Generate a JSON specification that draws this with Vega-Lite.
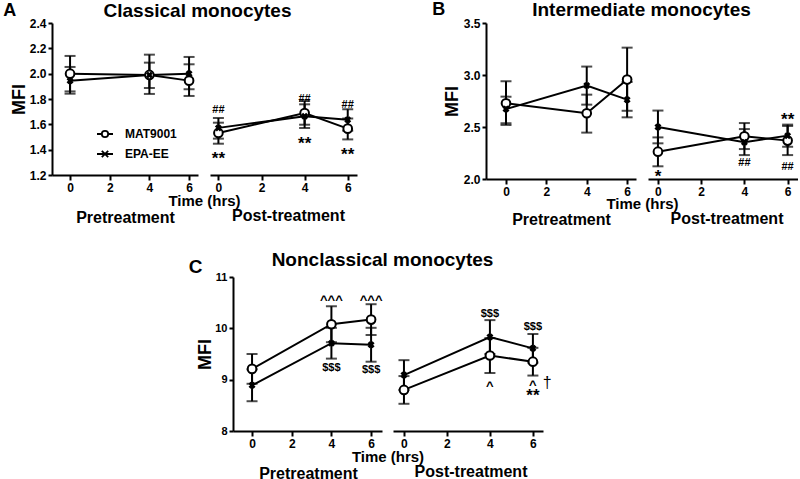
{
 "$schema": "https://vega.github.io/schema/vega-lite/v6.json",
 "padding": {"left": 3, "top": 0, "right": 0, "bottom": 0},
 "bounds": "flush",
 "spacing": 254,
 "datasets": {
  "d": [
   {"p":"A","ph":"pre","t":0,"s":"MAT9001","v":2.00,"lo":1.86,"hi":2.14},
   {"p":"A","ph":"pre","t":4,"s":"MAT9001","v":1.99,"lo":1.84,"hi":2.15},
   {"p":"A","ph":"pre","t":6,"s":"MAT9001","v":1.945,"lo":1.824,"hi":2.074},
   {"p":"A","ph":"pre","t":0,"s":"EPA-EE","v":1.945,"lo":1.842,"hi":2.053},
   {"p":"A","ph":"pre","t":4,"s":"EPA-EE","v":1.99,"lo":1.887,"hi":2.087},
   {"p":"A","ph":"pre","t":6,"s":"EPA-EE","v":2.00,"lo":1.877,"hi":2.132},
   {"p":"A","ph":"post","t":0,"s":"MAT9001","v":1.532,"lo":1.447,"hi":1.613},
   {"p":"A","ph":"post","t":4,"s":"MAT9001","v":1.689,"lo":1.597,"hi":1.784},
   {"p":"A","ph":"post","t":6,"s":"MAT9001","v":1.566,"lo":1.481,"hi":1.646},
   {"p":"A","ph":"post","t":0,"s":"EPA-EE","v":1.572,"lo":1.487,"hi":1.650},
   {"p":"A","ph":"post","t":4,"s":"EPA-EE","v":1.663,"lo":1.571,"hi":1.758},
   {"p":"A","ph":"post","t":6,"s":"EPA-EE","v":1.637,"lo":1.55,"hi":1.719},
   {"p":"B","ph":"pre","t":0,"s":"MAT9001","v":2.728,"lo":2.52,"hi":2.94},
   {"p":"B","ph":"pre","t":4,"s":"MAT9001","v":2.632,"lo":2.446,"hi":2.811},
   {"p":"B","ph":"pre","t":6,"s":"MAT9001","v":2.956,"lo":2.656,"hi":3.263},
   {"p":"B","ph":"pre","t":0,"s":"EPA-EE","v":2.673,"lo":2.536,"hi":2.792},
   {"p":"B","ph":"pre","t":4,"s":"EPA-EE","v":2.898,"lo":2.715,"hi":3.081},
   {"p":"B","ph":"pre","t":6,"s":"EPA-EE","v":2.763,"lo":2.593,"hi":2.933},
   {"p":"B","ph":"post","t":0,"s":"MAT9001","v":2.263,"lo":2.122,"hi":2.40},
   {"p":"B","ph":"post","t":4,"s":"MAT9001","v":2.41,"lo":2.288,"hi":2.538},
   {"p":"B","ph":"post","t":6,"s":"MAT9001","v":2.369,"lo":2.23,"hi":2.51},
   {"p":"B","ph":"post","t":0,"s":"EPA-EE","v":2.50,"lo":2.343,"hi":2.658},
   {"p":"B","ph":"post","t":4,"s":"EPA-EE","v":2.353,"lo":2.23,"hi":2.48},
   {"p":"B","ph":"post","t":6,"s":"EPA-EE","v":2.417,"lo":2.31,"hi":2.523},
   {"p":"C","ph":"pre","t":0,"s":"MAT9001","v":9.21,"lo":8.92,"hi":9.50},
   {"p":"C","ph":"pre","t":4,"s":"MAT9001","v":10.08,"lo":9.73,"hi":10.43},
   {"p":"C","ph":"pre","t":6,"s":"MAT9001","v":10.17,"lo":9.87,"hi":10.47},
   {"p":"C","ph":"pre","t":0,"s":"EPA-EE","v":8.89,"lo":8.58,"hi":9.20},
   {"p":"C","ph":"pre","t":4,"s":"EPA-EE","v":9.71,"lo":9.41,"hi":10.01},
   {"p":"C","ph":"pre","t":6,"s":"EPA-EE","v":9.68,"lo":9.35,"hi":10.01},
   {"p":"C","ph":"post","t":0,"s":"MAT9001","v":8.80,"lo":8.53,"hi":9.07},
   {"p":"C","ph":"post","t":4,"s":"MAT9001","v":9.47,"lo":9.13,"hi":9.81},
   {"p":"C","ph":"post","t":6,"s":"MAT9001","v":9.35,"lo":9.08,"hi":9.62},
   {"p":"C","ph":"post","t":0,"s":"EPA-EE","v":9.09,"lo":8.80,"hi":9.38},
   {"p":"C","ph":"post","t":4,"s":"EPA-EE","v":9.83,"lo":9.50,"hi":10.16},
   {"p":"C","ph":"post","t":6,"s":"EPA-EE","v":9.61,"lo":9.33,"hi":9.89}
  ],
  "ann": [
   {"p":"A","ph":"post","t":0,"v":1.711,"label":"##"},
   {"p":"A","ph":"post","t":4,"v":1.798,"label":"##"},
   {"p":"A","ph":"post","t":6,"v":1.750,"label":"##"},
   {"p":"A","ph":"post","t":0,"v":1.368,"label":"**"},
   {"p":"A","ph":"post","t":4,"v":1.482,"label":"**"},
   {"p":"A","ph":"post","t":6,"v":1.400,"label":"**"},
   {"p":"B","ph":"post","t":0,"v":2.064,"label":"*"},
   {"p":"B","ph":"post","t":4,"v":2.154,"label":"##"},
   {"p":"B","ph":"post","t":6,"v":2.112,"label":"##"},
   {"p":"B","ph":"post","t":6,"v":2.619,"label":"**"},
   {"p":"C","ph":"pre","t":4,"v":10.62,"label":"^^^"},
   {"p":"C","ph":"pre","t":6,"v":10.61,"label":"^^^"},
   {"p":"C","ph":"pre","t":4,"v":9.22,"label":"$$$"},
   {"p":"C","ph":"pre","t":6,"v":9.18,"label":"$$$"},
   {"p":"C","ph":"post","t":4,"v":10.27,"label":"$$$"},
   {"p":"C","ph":"post","t":6,"v":10.03,"label":"$$$"},
   {"p":"C","ph":"post","t":4,"v":8.94,"label":"^"},
   {"p":"C","ph":"post","t":6,"v":8.96,"label":"^"},
   {"p":"C","ph":"post","t":6,"v":8.77,"label":"**"},
   {"p":"C","ph":"post","t":6.67,"v":8.93,"label":"†"}
  ]
 },
 "vconcat": [
  {
   "bounds": "flush",
   "spacing": 12,
   "hconcat": [
    {
     "width": 146, "height": 152,
     "title": {"text": "A", "anchor": "start", "frame": "bounds", "fontSize": 18, "offset": -18.6, "dx": -7},
     "data": {"name": "d"},
     "transform": [{"filter": "datum.p == 'A' && datum.ph == 'pre'"}],
     "resolve": {"axis": {"x": "independent"}},
     "layer": [
      {
       "encoding": {"x": {"field": "t", "type": "quantitative", "scale": {"domain": [-0.91, 6.45], "nice": false, "zero": false}, "axis": {"values": [0,2,4,6], "title": "Pretreatment", "titleX": 73, "titleY": 47, "titleBaseline": "alphabetic", "titleFontSize": 16}}},
       "layer": [
        {"mark": {"type": "errorbar", "ticks": true, "size": 11, "thickness": 2, "color": "black"},
         "encoding": {"y": {"field": "lo", "type": "quantitative", "scale": {"domain": [1.2,2.4], "nice": false, "zero": false}, "axis": {"title": "MFI", "values": [1.2,1.4,1.6,1.8,2.0,2.2,2.4], "format": ".1f", "titlePadding": 1}}, "y2": {"field": "hi"}}},
        {"mark": {"type": "line", "color": "black", "strokeWidth": 2},
         "encoding": {"y": {"field": "v", "type": "quantitative", "scale": {"domain": [1.2,2.4], "nice": false, "zero": false}, "axis": {"title": "MFI", "values": [1.2,1.4,1.6,1.8,2.0,2.2,2.4], "format": ".1f", "titlePadding": 1}}, "detail": {"field": "s"}}},
        {"transform": [{"filter": "datum.s == 'MAT9001'"}],
         "mark": {"type": "point", "shape": "circle", "filled": true, "fill": "white", "stroke": "black", "strokeWidth": 2, "size": 75, "opacity": 1},
         "encoding": {"y": {"field": "v", "type": "quantitative", "scale": {"domain": [1.2,2.4], "nice": false, "zero": false}, "axis": {"title": "MFI", "values": [1.2,1.4,1.6,1.8,2.0,2.2,2.4], "format": ".1f", "titlePadding": 1}}}},
        {"transform": [{"filter": "datum.s == 'EPA-EE'"}],
         "mark": {"type": "point", "shape": "cross", "angle": 45, "filled": true, "color": "black", "size": 50, "opacity": 1},
         "encoding": {"y": {"field": "v", "type": "quantitative", "scale": {"domain": [1.2,2.4], "nice": false, "zero": false}, "axis": {"title": "MFI", "values": [1.2,1.4,1.6,1.8,2.0,2.2,2.4], "format": ".1f", "titlePadding": 1}}}},
        {"mark": {"type": "point", "opacity": 0},
         "encoding": {"y": {"field": "v", "type": "quantitative", "scale": {"domain": [1.2,2.4], "nice": false, "zero": false}, "axis": {"title": "MFI", "values": [1.2,1.4,1.6,1.8,2.0,2.2,2.4], "format": ".1f", "titlePadding": 1}},
          "shape": {"field": "s", "type": "nominal", "scale": {"domain": ["MAT9001","EPA-EE"], "range": ["M-2,0L-0.8,0M0.8,0L2,0M-0.8,0A0.8,0.8,0,1,0,0.8,0A0.8,0.8,0,1,0,-0.8,0Z", "M-2,0L2,0M-0.8,-0.8L0.8,0.8M-0.8,0.8L0.8,-0.8"]},
           "legend": {"orient": "none", "legendX": 47, "legendY": 105, "title": null}}}}
       ]
      },
      {"mark": {"type": "point", "opacity": 0},
       "encoding": {"x": {"field": "t", "type": "quantitative", "scale": {"domain": [-0.91, 6.45], "nice": false, "zero": false}, "axis": {"orient": "top", "labels": false, "ticks": false, "domain": false, "title": "Classical monocytes", "titleX": 145, "titleY": -7, "titleBaseline": "alphabetic", "titleFontSize": 19}}}}
     ]
    },
    {
     "width": 147, "height": 152,
     "title": {"text": "Post-treatment", "orient": "bottom", "anchor": "middle", "frame": "group", "fontSize": 16, "offset": 0, "dx": 5},
     "data": {"name": "d"},
     "transform": [{"filter": "datum.p == 'A' && datum.ph == 'post'"}],
     "encoding": {"x": {"field": "t", "type": "quantitative", "scale": {"domain": [-0.39, 6.43], "nice": false, "zero": false}, "axis": {"values": [0,2,4,6], "title": "Time (hrs)", "titleX": -6, "titleY": 30, "titleBaseline": "alphabetic", "titleFontSize": 15}}},
     "layer": [
      {"mark": {"type": "errorbar", "ticks": true, "size": 11, "thickness": 2, "color": "black"},
       "encoding": {"y": {"field": "lo", "type": "quantitative", "scale": {"domain": [1.2,2.4], "nice": false, "zero": false}, "axis": null}, "y2": {"field": "hi"}}},
      {"mark": {"type": "line", "color": "black", "strokeWidth": 2},
       "encoding": {"y": {"field": "v", "type": "quantitative", "scale": {"domain": [1.2,2.4], "nice": false, "zero": false}, "axis": null}, "detail": {"field": "s"}}},
      {"transform": [{"filter": "datum.s == 'MAT9001'"}],
       "mark": {"type": "point", "shape": "circle", "filled": true, "fill": "white", "stroke": "black", "strokeWidth": 2, "size": 75, "opacity": 1},
       "encoding": {"y": {"field": "v", "type": "quantitative", "scale": {"domain": [1.2,2.4], "nice": false, "zero": false}, "axis": null}}},
      {"transform": [{"filter": "datum.s == 'EPA-EE'"}],
       "mark": {"type": "point", "shape": "cross", "angle": 45, "filled": true, "color": "black", "size": 50, "opacity": 1},
       "encoding": {"y": {"field": "v", "type": "quantitative", "scale": {"domain": [1.2,2.4], "nice": false, "zero": false}, "axis": null}}},
      {"data": {"name": "ann"},
       "transform": [{"filter": "datum.p == 'A' && datum.ph == 'post' && (datum.label == '##' || datum.label == '$$$')"}],
       "mark": {"type": "text", "fontSize": 11, "fontWeight": "bold", "fill": "black", "baseline": "middle"},
       "encoding": {"y": {"field": "v", "type": "quantitative", "scale": {"domain": [1.2,2.4], "nice": false, "zero": false}, "axis": null}, "text": {"field": "label"}}},
      {"data": {"name": "ann"},
       "transform": [{"filter": "datum.p == 'A' && datum.ph == 'post' && (datum.label == '**' || datum.label == '*')"}],
       "mark": {"type": "text", "fontSize": 17, "fontWeight": "bold", "fill": "black", "baseline": "middle", "dy": 5},
       "encoding": {"y": {"field": "v", "type": "quantitative", "scale": {"domain": [1.2,2.4], "nice": false, "zero": false}, "axis": null}, "text": {"field": "label"}}}
     ]
    },
    {"width": 105, "height": 10, "data": {"values": []}, "mark": "point"},
    {
     "width": 150, "height": 156,
     "title": {"text": "B", "anchor": "start", "frame": "bounds", "fontSize": 18, "offset": -18.6, "dx": -11},
     "data": {"name": "d"},
     "transform": [{"filter": "datum.p == 'B' && datum.ph == 'pre'"}],
     "resolve": {"axis": {"x": "independent"}},
     "layer": [
      {
       "encoding": {"x": {"field": "t", "type": "quantitative", "scale": {"domain": [-0.99, 6.44], "nice": false, "zero": false}, "axis": {"values": [0,2,4,6], "title": "Pretreatment", "titleX": 75, "titleY": 45, "titleBaseline": "alphabetic", "titleFontSize": 16}}},
       "layer": [
        {"mark": {"type": "errorbar", "ticks": true, "size": 11, "thickness": 2, "color": "black"},
         "encoding": {"y": {"field": "lo", "type": "quantitative", "scale": {"domain": [2,3.5], "nice": false, "zero": false}, "axis": {"title": "MFI", "values": [2,2.5,3,3.5], "format": ".1f", "titlePadding": 2}}, "y2": {"field": "hi"}}},
        {"mark": {"type": "line", "color": "black", "strokeWidth": 2},
         "encoding": {"y": {"field": "v", "type": "quantitative", "scale": {"domain": [2,3.5], "nice": false, "zero": false}, "axis": {"title": "MFI", "values": [2,2.5,3,3.5], "format": ".1f", "titlePadding": 2}}, "detail": {"field": "s"}}},
        {"transform": [{"filter": "datum.s == 'MAT9001'"}],
         "mark": {"type": "point", "shape": "circle", "filled": true, "fill": "white", "stroke": "black", "strokeWidth": 2, "size": 75, "opacity": 1},
         "encoding": {"y": {"field": "v", "type": "quantitative", "scale": {"domain": [2,3.5], "nice": false, "zero": false}, "axis": {"title": "MFI", "values": [2,2.5,3,3.5], "format": ".1f", "titlePadding": 2}}}},
        {"transform": [{"filter": "datum.s == 'EPA-EE'"}],
         "mark": {"type": "point", "shape": "cross", "angle": 45, "filled": true, "color": "black", "size": 50, "opacity": 1},
         "encoding": {"y": {"field": "v", "type": "quantitative", "scale": {"domain": [2,3.5], "nice": false, "zero": false}, "axis": {"title": "MFI", "values": [2,2.5,3,3.5], "format": ".1f", "titlePadding": 2}}}},
        {"mark": {"type": "point", "opacity": 0},
         "encoding": {"y": {"field": "v", "type": "quantitative", "scale": {"domain": [2,3.5], "nice": false, "zero": false}, "axis": {"title": "MFI", "values": [2,2.5,3,3.5], "format": ".1f", "titlePadding": 2}},
          "shape": {"field": "s", "type": "nominal", "scale": {"domain": ["MAT9001","EPA-EE"], "range": ["M-2,0L-0.8,0M0.8,0L2,0M-0.8,0A0.8,0.8,0,1,0,0.8,0A0.8,0.8,0,1,0,-0.8,0Z", "M-2,0L2,0M-0.8,-0.8L0.8,0.8M-0.8,0.8L0.8,-0.8"]},
           "legend": {"orient": "none", "legendX": 42, "legendY": 125, "title": null}}}}
       ]
      },
      {"mark": {"type": "point", "opacity": 0},
       "encoding": {"x": {"field": "t", "type": "quantitative", "scale": {"domain": [-0.99, 6.44], "nice": false, "zero": false}, "axis": {"orient": "top", "labels": false, "ticks": false, "domain": false, "title": "Intermediate monocytes", "titleX": 155, "titleY": -8, "titleBaseline": "alphabetic", "titleFontSize": 19}}}}
     ]
    },
    {
     "width": 150, "height": 156,
     "title": {"text": "Post-treatment", "orient": "bottom", "anchor": "middle", "frame": "group", "fontSize": 16, "offset": 0, "dx": 4},
     "data": {"name": "d"},
     "transform": [{"filter": "datum.p == 'B' && datum.ph == 'post'"}],
     "encoding": {"x": {"field": "t", "type": "quantitative", "scale": {"domain": [-0.46, 6.48], "nice": false, "zero": false}, "axis": {"values": [0,2,4,6], "title": "Time (hrs)", "titleX": -6, "titleY": 29, "titleBaseline": "alphabetic", "titleFontSize": 15}}},
     "layer": [
      {"mark": {"type": "errorbar", "ticks": true, "size": 11, "thickness": 2, "color": "black"},
       "encoding": {"y": {"field": "lo", "type": "quantitative", "scale": {"domain": [2,3.5], "nice": false, "zero": false}, "axis": null}, "y2": {"field": "hi"}}},
      {"mark": {"type": "line", "color": "black", "strokeWidth": 2},
       "encoding": {"y": {"field": "v", "type": "quantitative", "scale": {"domain": [2,3.5], "nice": false, "zero": false}, "axis": null}, "detail": {"field": "s"}}},
      {"transform": [{"filter": "datum.s == 'MAT9001'"}],
       "mark": {"type": "point", "shape": "circle", "filled": true, "fill": "white", "stroke": "black", "strokeWidth": 2, "size": 75, "opacity": 1},
       "encoding": {"y": {"field": "v", "type": "quantitative", "scale": {"domain": [2,3.5], "nice": false, "zero": false}, "axis": null}}},
      {"transform": [{"filter": "datum.s == 'EPA-EE'"}],
       "mark": {"type": "point", "shape": "cross", "angle": 45, "filled": true, "color": "black", "size": 50, "opacity": 1},
       "encoding": {"y": {"field": "v", "type": "quantitative", "scale": {"domain": [2,3.5], "nice": false, "zero": false}, "axis": null}}},
      {"data": {"name": "ann"},
       "transform": [{"filter": "datum.p == 'B' && datum.ph == 'post' && (datum.label == '##' || datum.label == '$$$')"}],
       "mark": {"type": "text", "fontSize": 11, "fontWeight": "bold", "fill": "black", "baseline": "middle"},
       "encoding": {"y": {"field": "v", "type": "quantitative", "scale": {"domain": [2,3.5], "nice": false, "zero": false}, "axis": null}, "text": {"field": "label"}}},
      {"data": {"name": "ann"},
       "transform": [{"filter": "datum.p == 'B' && datum.ph == 'post' && (datum.label == '**' || datum.label == '*')"}],
       "mark": {"type": "text", "fontSize": 17, "fontWeight": "bold", "fill": "black", "baseline": "middle", "dy": 5},
       "encoding": {"y": {"field": "v", "type": "quantitative", "scale": {"domain": [2,3.5], "nice": false, "zero": false}, "axis": null}, "text": {"field": "label"}}}
     ]
    }
   ]
  },
  {
   "bounds": "flush",
   "spacing": 11,
   "hconcat": [
    {"width": 170, "height": 10, "data": {"values": []}, "mark": "point"},
    {
     "width": 149, "height": 154,
     "title": {"text": "C", "anchor": "start", "frame": "bounds", "fontSize": 19, "offset": -26.6, "dx": -8},
     "data": {"name": "d"},
     "transform": [{"filter": "datum.p == 'C' && datum.ph == 'pre'"}],
     "resolve": {"axis": {"x": "independent"}},
     "layer": [
      {
       "encoding": {"x": {"field": "t", "type": "quantitative", "scale": {"domain": [-0.96, 6.55], "nice": false, "zero": false}, "axis": {"values": [0,2,4,6], "title": "Pretreatment", "titleX": 75, "titleY": 47, "titleBaseline": "alphabetic", "titleFontSize": 16}}},
       "layer": [
        {"mark": {"type": "errorbar", "ticks": true, "size": 11, "thickness": 2, "color": "black"},
         "encoding": {"y": {"field": "lo", "type": "quantitative", "scale": {"domain": [8,11], "nice": false, "zero": false}, "axis": {"title": "MFI", "values": [8,9,10,11], "format": "d", "titlePadding": 0, "labelFontSize": 11}}, "y2": {"field": "hi"}}},
        {"mark": {"type": "line", "color": "black", "strokeWidth": 2},
         "encoding": {"y": {"field": "v", "type": "quantitative", "scale": {"domain": [8,11], "nice": false, "zero": false}, "axis": {"title": "MFI", "values": [8,9,10,11], "format": "d", "titlePadding": 0, "labelFontSize": 11}}, "detail": {"field": "s"}}},
        {"transform": [{"filter": "datum.s == 'MAT9001'"}],
         "mark": {"type": "point", "shape": "circle", "filled": true, "fill": "white", "stroke": "black", "strokeWidth": 2, "size": 75, "opacity": 1},
         "encoding": {"y": {"field": "v", "type": "quantitative", "scale": {"domain": [8,11], "nice": false, "zero": false}, "axis": {"title": "MFI", "values": [8,9,10,11], "format": "d", "titlePadding": 0, "labelFontSize": 11}}}},
        {"transform": [{"filter": "datum.s == 'EPA-EE'"}],
         "mark": {"type": "point", "shape": "cross", "angle": 45, "filled": true, "color": "black", "size": 50, "opacity": 1},
         "encoding": {"y": {"field": "v", "type": "quantitative", "scale": {"domain": [8,11], "nice": false, "zero": false}, "axis": {"title": "MFI", "values": [8,9,10,11], "format": "d", "titlePadding": 0, "labelFontSize": 11}}}},
        {"mark": {"type": "point", "opacity": 0},
         "encoding": {"y": {"field": "v", "type": "quantitative", "scale": {"domain": [8,11], "nice": false, "zero": false}, "axis": {"title": "MFI", "values": [8,9,10,11], "format": "d", "titlePadding": 0, "labelFontSize": 11}},
          "shape": {"field": "s", "type": "nominal", "scale": {"domain": ["MAT9001","EPA-EE"], "range": ["M-2,0L-0.8,0M0.8,0L2,0M-0.8,0A0.8,0.8,0,1,0,0.8,0A0.8,0.8,0,1,0,-0.8,0Z", "M-2,0L2,0M-0.8,-0.8L0.8,0.8M-0.8,0.8L0.8,-0.8"]},
           "legend": {"orient": "none", "legendX": 45, "legendY": 121, "title": null}}}},
        {"data": {"name": "ann"},
         "transform": [{"filter": "datum.p == 'C' && datum.ph == 'pre' && (datum.label == '##' || datum.label == '$$$')"}],
         "mark": {"type": "text", "fontSize": 11, "fontWeight": "bold", "fill": "black", "baseline": "middle"},
         "encoding": {"y": {"field": "v", "type": "quantitative", "scale": {"domain": [8,11], "nice": false, "zero": false}, "axis": {"title": "MFI", "values": [8,9,10,11], "format": "d", "titlePadding": 0, "labelFontSize": 11}}, "text": {"field": "label"}}},
        {"data": {"name": "ann"},
         "transform": [{"filter": "datum.p == 'C' && datum.ph == 'pre' && (datum.label == '^^^' || datum.label == '^')"}],
         "mark": {"type": "text", "fontSize": 13, "fontWeight": "bold", "fill": "black", "baseline": "middle", "dy": 3},
         "encoding": {"y": {"field": "v", "type": "quantitative", "scale": {"domain": [8,11], "nice": false, "zero": false}, "axis": {"title": "MFI", "values": [8,9,10,11], "format": "d", "titlePadding": 0, "labelFontSize": 11}}, "text": {"field": "label"}}}
       ]
      },
      {"mark": {"type": "point", "opacity": 0},
       "encoding": {"x": {"field": "t", "type": "quantitative", "scale": {"domain": [-0.96, 6.55], "nice": false, "zero": false}, "axis": {"orient": "top", "labels": false, "ticks": false, "domain": false, "title": "Nonclassical monocytes", "titleX": 149, "titleY": -12, "titleBaseline": "alphabetic", "titleFontSize": 19}}}}
     ]
    },
    {
     "width": 150, "height": 154,
     "title": {"text": "Post-treatment", "orient": "bottom", "anchor": "middle", "frame": "group", "fontSize": 16, "offset": 0, "dx": 3},
     "data": {"name": "d"},
     "transform": [{"filter": "datum.p == 'C' && datum.ph == 'post'"}],
     "encoding": {"x": {"field": "t", "type": "quantitative", "scale": {"domain": [-0.51, 6.47], "nice": false, "zero": false}, "axis": {"values": [0,2,4,6], "title": "Time (hrs)", "titleX": -5.5, "titleY": 30, "titleBaseline": "alphabetic", "titleFontSize": 15}}},
     "layer": [
      {"mark": {"type": "errorbar", "ticks": true, "size": 11, "thickness": 2, "color": "black"},
       "encoding": {"y": {"field": "lo", "type": "quantitative", "scale": {"domain": [8,11], "nice": false, "zero": false}, "axis": null}, "y2": {"field": "hi"}}},
      {"mark": {"type": "line", "color": "black", "strokeWidth": 2},
       "encoding": {"y": {"field": "v", "type": "quantitative", "scale": {"domain": [8,11], "nice": false, "zero": false}, "axis": null}, "detail": {"field": "s"}}},
      {"transform": [{"filter": "datum.s == 'MAT9001'"}],
       "mark": {"type": "point", "shape": "circle", "filled": true, "fill": "white", "stroke": "black", "strokeWidth": 2, "size": 75, "opacity": 1},
       "encoding": {"y": {"field": "v", "type": "quantitative", "scale": {"domain": [8,11], "nice": false, "zero": false}, "axis": null}}},
      {"transform": [{"filter": "datum.s == 'EPA-EE'"}],
       "mark": {"type": "point", "shape": "cross", "angle": 45, "filled": true, "color": "black", "size": 50, "opacity": 1},
       "encoding": {"y": {"field": "v", "type": "quantitative", "scale": {"domain": [8,11], "nice": false, "zero": false}, "axis": null}}},
      {"data": {"name": "ann"},
       "transform": [{"filter": "datum.p == 'C' && datum.ph == 'post' && (datum.label == '##' || datum.label == '$$$')"}],
       "mark": {"type": "text", "fontSize": 11, "fontWeight": "bold", "fill": "black", "baseline": "middle"},
       "encoding": {"y": {"field": "v", "type": "quantitative", "scale": {"domain": [8,11], "nice": false, "zero": false}, "axis": null}, "text": {"field": "label"}}},
      {"data": {"name": "ann"},
       "transform": [{"filter": "datum.p == 'C' && datum.ph == 'post' && (datum.label == '^^^' || datum.label == '^')"}],
       "mark": {"type": "text", "fontSize": 13, "fontWeight": "bold", "fill": "black", "baseline": "middle", "dy": 3},
       "encoding": {"y": {"field": "v", "type": "quantitative", "scale": {"domain": [8,11], "nice": false, "zero": false}, "axis": null}, "text": {"field": "label"}}},
      {"data": {"name": "ann"},
       "transform": [{"filter": "datum.p == 'C' && datum.ph == 'post' && (datum.label == '**' || datum.label == '*')"}],
       "mark": {"type": "text", "fontSize": 17, "fontWeight": "bold", "fill": "black", "baseline": "middle", "dy": 5},
       "encoding": {"y": {"field": "v", "type": "quantitative", "scale": {"domain": [8,11], "nice": false, "zero": false}, "axis": null}, "text": {"field": "label"}}},
      {"data": {"name": "ann"},
       "transform": [{"filter": "datum.p == 'C' && datum.ph == 'post' && datum.label == '†'"}],
       "mark": {"type": "text", "fontSize": 16, "fontWeight": "normal", "fill": "black", "baseline": "middle"},
       "encoding": {"y": {"field": "v", "type": "quantitative", "scale": {"domain": [8,11], "nice": false, "zero": false}, "axis": null}, "text": {"field": "label"}}}
     ]
    }
   ]
  }
 ],
 "config": {
  "font": "Liberation Sans",
  "view": {"stroke": null},
  "axis": {"labelFontWeight": "bold", "labelFontSize": 12, "labelColor": "black", "titleFontWeight": "bold", "titleColor": "black", "domainColor": "black", "domainWidth": 2, "tickColor": "black", "tickWidth": 2, "tickSize": 5, "grid": false, "labelPadding": 2, "labelFlush": false},
  "axisY": {"titleFontSize": 18, "tickSize": 4},
  "title": {"fontWeight": "bold", "color": "black", "fontSize": 19},
  "legend": {"symbolSize": 64, "labelOffset": 14, "labelFontSize": 12, "labelFontWeight": "bold", "labelColor": "black", "rowPadding": 6, "padding": 0, "symbolStrokeWidth": 1.8, "symbolStrokeColor": "black", "symbolFillColor": "white", "symbolOpacity": 1},
  "text": {"font": "Liberation Sans"}
 }
}
